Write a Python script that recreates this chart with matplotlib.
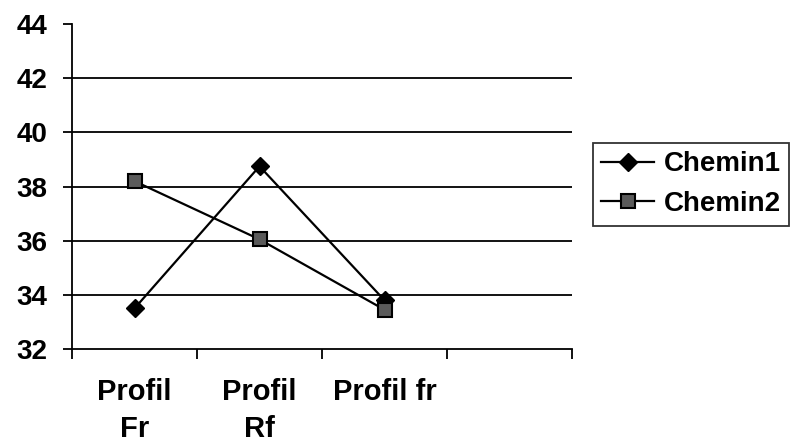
import matplotlib.pyplot as plt

categories = ['Profil\nFr', 'Profil\nRf', 'Profil fr', '']
chemin1 = [33.5, 38.75, 33.8]
chemin2 = [38.2, 36.05, 33.45]
yticks = [32, 34, 36, 38, 40, 42, 44]

plt.rcParams['font.family'] = ['Liberation Sans', 'DejaVu Sans']
plt.rcParams['font.weight'] = 'bold'

fig = plt.figure(figsize=(7.94, 4.48), dpi=100)
ax = fig.add_axes([0.0907, 0.221, 0.6297, 0.725])

xs = [i + 0.5 for i in range(len(chemin1))]
ax.plot(xs, chemin1, color='black', lw=1.6, marker='D', ms=9,
        mfc='black', mec='black', label='Chemin1', zorder=3)
ax.plot(xs, chemin2, color='black', lw=1.6, marker='s', ms=10,
        mfc='#5a5a5a', mec='black', mew=1.5, label='Chemin2', zorder=3)

ax.set_xlim(0, len(categories))
ax.set_ylim(32, 44)
ax.set_yticks(yticks)
ax.set_yticklabels([str(v) for v in yticks], fontsize=20, fontweight='bold')
for v in yticks[1:-1]:
    ax.axhline(v, color='black', lw=1.3, zorder=1)

ax.set_xticks(range(len(categories) + 1))
ax.set_xticklabels([])
ax.set_xticks(xs + [3.5], minor=True)
ax.set_xticklabels(categories, minor=True, fontsize=21, fontweight='bold',
                   linespacing=1.4, va='top')
ax.tick_params(axis='x', which='minor', length=0, pad=21)
ax.tick_params(axis='x', which='major', length=7, width=1.3, direction='out')
ax.tick_params(axis='y', length=6.5, width=1.3, direction='out', pad=11)

for side in ['top', 'right']:
    ax.spines[side].set_visible(False)
for side in ['left', 'bottom']:
    ax.spines[side].set_linewidth(1.3)

leg = fig.legend(*ax.get_legend_handles_labels(), loc='upper left',
                 bbox_to_anchor=(593 / 794, (448 - 143) / 448),
                 frameon=True, fancybox=False, edgecolor='black',
                 handlelength=1.9, borderpad=0.3, labelspacing=0.5,
                 handletextpad=0.35, borderaxespad=0,
                 prop={'weight': 'bold', 'size': 20})
leg.get_frame().set_linewidth(1.3)

fig.savefig('out.png', dpi=100)
